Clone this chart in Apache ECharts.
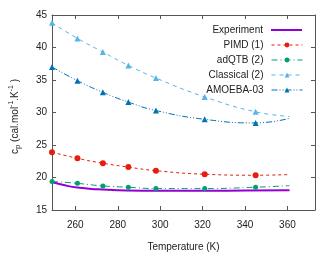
<!DOCTYPE html>
<html><head><meta charset="utf-8">
<script src="https://cdn.jsdelivr.net/npm/echarts@6/dist/echarts.min.js"></script>
<style>html,body{margin:0;padding:0;background:#fff}#c{width:333px;height:259px}</style>
</head><body><div id="c"></div>
<script>
var temps = [249, 261, 273, 285, 298, 321, 345, 361];
var pimd = [23.9, 22.95, 22.2, 21.6, 21.05, 20.5, 20.35, 20.45];
var adqtb = [19.4, 19.1, 18.7, 18.5, 18.3, 18.3, 18.5, 18.75];
var classical = [43.8, 41.4, 39.3, 37.25, 35.3, 32.4, 30.1, 29.4];
var amoeba = [37.0, 34.9, 33.1, 31.6, 30.3, 28.95, 28.4, 29.1];
var expT = [249, 255, 261, 270, 280, 300, 320, 340, 361];
var expV = [19.3, 18.8, 18.45, 18.2, 18.05, 17.95, 17.95, 18.0, 18.05];
var xTicks = [260, 280, 300, 320, 340, 360];
var names = ['Experiment', 'PIMD (1)', 'adQTB (2)', 'Classical (2)', 'AMOEBA-03'];

var FONT = 'Liberation Sans';
var AX = '#555';
var TXT = '#222';
var colors = ['#9400d3', '#e51e10', '#009e73', '#56b4e9', '#0072b2'];
var widths = [2, 1, 1, 1, 1];
var dashes = ['solid', [3, 3], [6, 3, 1, 3], [4, 4], [6, 2, 1, 2, 1, 2]];
var symbols = ['none', 'circle', 'circle', 'triangle', 'triangle'];
var symSizes = [0, 6, 5, 6, 6];

function pts(xs, ys, lastNoSymbol) {
  return xs.map(function (x, i) {
    var d = { value: [x, ys[i]] };
    if (lastNoSymbol && i === xs.length - 1) d.symbol = 'none';
    return d;
  });
}
var chart = echarts.init(document.getElementById('c'), null, { renderer: 'canvas' });
var xCommon = {
  type: 'value', min: 249, max: 373,
  axisLine: { show: true, lineStyle: { color: AX, width: 1 } },
  splitLine: { show: false }
};
var yCommon = {
  type: 'value', min: 15, max: 45, interval: 5,
  axisLine: { show: true, lineStyle: { color: AX, width: 1 } },
  splitLine: { show: false }
};
var legends = names.map(function (n, i) {
  return {
    data: [n], orient: 'vertical', align: 'right', right: 30, top: 25 + i * 15,
    itemWidth: 31, itemHeight: 6, padding: 0, itemGap: 0,
    lineStyle: { width: widths[i] },
    itemStyle: i === 0 ? { opacity: 0 } : {},
    textStyle: { fontFamily: FONT, fontSize: 10, color: TXT, padding: [0, 3, 0, 0] }
  };
});
var series = [];
for (var k = 0; k < names.length; k++) {
  var isExp = k === 0;
  series.push({
    name: names[k], type: 'line', smooth: true,
    symbol: isExp ? 'none' : symbols[k], symbolSize: symSizes[k],
    showSymbol: !isExp,
    data: isExp ? pts(expT, expV, false) : pts(temps, [null, pimd, adqtb, classical, amoeba][k], true),
    lineStyle: { color: colors[k], width: widths[k], type: dashes[k] },
    itemStyle: { color: colors[k] }
  });
}
var option = {
  backgroundColor: '#fff',
  animation: false,
  grid: { left: 48, top: 15, right: 18, bottom: 49 },
  legend: legends,
  xAxis: [
    Object.assign({}, xCommon, {
      position: 'bottom',
      name: 'Temperature (K)', nameLocation: 'middle', nameGap: 32,
      nameTextStyle: { fontFamily: FONT, fontSize: 10, color: TXT },
      axisTick: { show: true, inside: true, length: 4, customValues: xTicks, lineStyle: { color: AX } },
      axisLabel: { show: true, margin: 10, customValues: xTicks, fontFamily: FONT, fontSize: 10, color: TXT }
    }),
    Object.assign({}, xCommon, {
      position: 'top',
      axisTick: { show: true, inside: true, length: 4, customValues: xTicks, lineStyle: { color: AX } },
      axisLabel: { show: false }
    })
  ],
  yAxis: [
    Object.assign({}, yCommon, {
      position: 'left',
      name: '{b|c}{s|p}{b| (cal.mol}{u|-1}{b|.K}{u|-1}{b| )}',
      nameLocation: 'middle', nameGap: 30, nameRotate: 90,
      nameTextStyle: {
        fontFamily: FONT, fontSize: 10, color: TXT, padding: [0, 8, 0, 0],
        rich: {
          b: { fontFamily: FONT, fontSize: 10, color: TXT, lineHeight: 14 },
          s: { fontFamily: FONT, fontSize: 8, color: TXT, lineHeight: 8, verticalAlign: 'bottom' },
          u: { fontFamily: FONT, fontSize: 7, color: TXT, lineHeight: 7, verticalAlign: 'top' }
        }
      },
      axisTick: { show: true, inside: true, length: 4, lineStyle: { color: AX } },
      axisLabel: { show: true, margin: 5, fontFamily: FONT, fontSize: 10, color: TXT }
    }),
    Object.assign({}, yCommon, {
      position: 'right',
      axisTick: { show: true, inside: true, length: 4, lineStyle: { color: AX } },
      axisLabel: { show: false }
    })
  ],
  series: series
};
chart.setOption(option);
</script></body></html>
